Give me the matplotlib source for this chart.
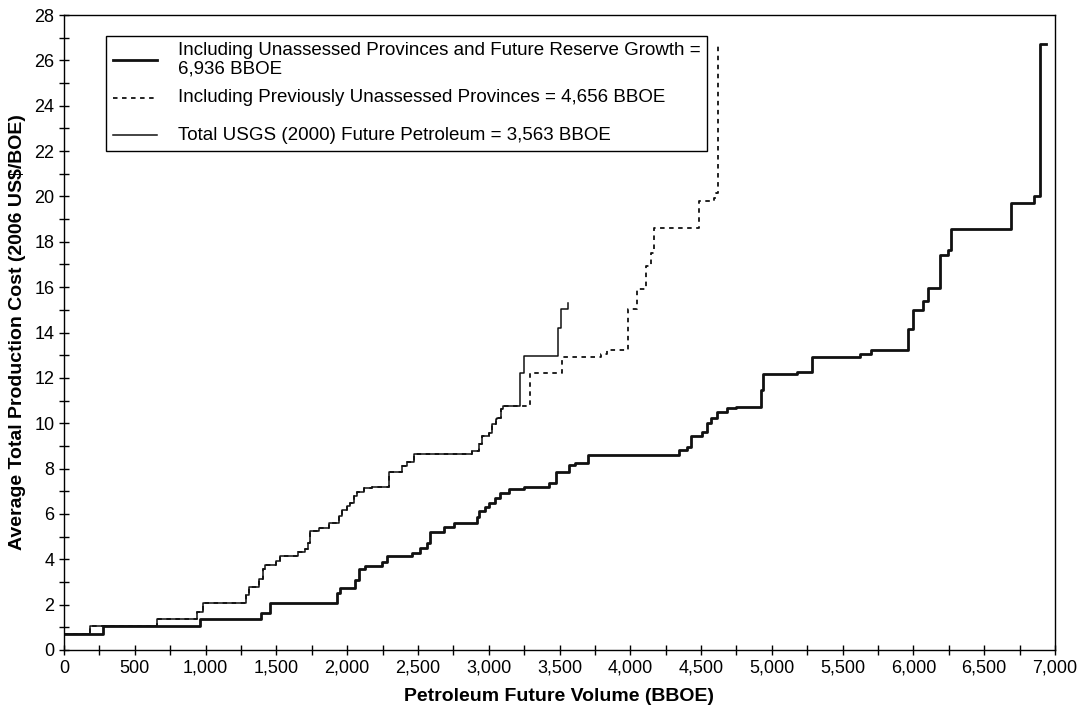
import matplotlib
matplotlib.use('Agg')
import matplotlib.pyplot as plt
from matplotlib.lines import Line2D
from matplotlib.patches import Rectangle
from matplotlib.ticker import MultipleLocator, FuncFormatter

plt.rcParams['font.family'] = ['Liberation Sans', 'DejaVu Sans']

# step breakpoints: x = volume where a cost level starts
x_growth = [0, 278, 962, 1391, 1457, 1928, 1952, 2058, 2081, 2128, 2246, 2282, 2458, 2517, 2565,
            2588, 2682, 2753, 2918, 2929, 2977, 3000, 3047, 3083, 3142, 3248, 3424, 3472, 3566, 3613,
            3700, 4343, 4403, 4426, 4509, 4544, 4568, 4615, 4686, 4744, 4921, 4935, 5181, 5287, 5623,
            5699, 5963, 5994, 6069, 6104, 6189, 6241, 6265, 6689, 6849, 6894, 6936]
y_growth = [0.70, 1.08, 1.35, 1.65, 2.06, 2.50, 2.72, 3.09, 3.56, 3.72, 3.89, 4.14, 4.26, 4.48, 4.70,
            5.22, 5.41, 5.59, 5.88, 6.14, 6.29, 6.47, 6.69, 6.94, 7.10, 7.17, 7.35, 7.86, 8.16, 8.26,
            8.60, 8.82, 8.96, 9.44, 9.63, 10.00, 10.22, 10.51, 10.66, 10.73, 11.46, 12.17, 12.24, 12.90, 13.05,
            13.23, 14.14, 14.99, 15.39, 15.98, 17.42, 17.64, 18.56, 19.69, 20.02, 26.72, 26.72]

x_usgs = [0, 184, 655, 938, 981, 1288, 1310, 1380, 1405, 1421, 1495, 1527, 1650, 1704, 1727,
          1739, 1800, 1869, 1940, 1964, 1999, 2022, 2046, 2070, 2116, 2176, 2293, 2388, 2423, 2470,
          2883, 2929, 2953, 3000, 3024, 3048, 3060, 3085, 3100, 3219, 3248, 3489, 3514, 3560, 3563]
y_usgs = [0.70, 1.08, 1.38, 1.67, 2.07, 2.42, 2.76, 3.13, 3.57, 3.76, 3.93, 4.15, 4.30, 4.45, 4.74,
          5.25, 5.40, 5.62, 5.91, 6.18, 6.33, 6.50, 6.79, 6.97, 7.13, 7.19, 7.87, 8.12, 8.29, 8.64,
          8.78, 9.07, 9.44, 9.58, 9.95, 10.17, 10.25, 10.61, 10.76, 12.23, 12.96, 14.21, 15.02, 15.28, 15.28]

# previously unassessed provinces: same as USGS up to ~3100, then its own steps
n_shared = 39
x_prev_tail = [3290, 3519, 3790, 3837, 3985, 4049, 4108, 4143, 4167, 4485, 4591, 4603, 4619, 4622]
y_prev_tail = [12.20, 12.93, 13.03, 13.22, 15.02, 15.90, 16.92, 17.51, 18.60, 19.78, 19.93, 20.15, 26.76, 26.76]
x_prev = x_usgs[:n_shared] + x_prev_tail
y_prev = y_usgs[:n_shared] + y_prev_tail

labels = ['Including Unassessed Provinces and Future Reserve Growth =\n6,936 BBOE',
          'Including Previously Unassessed Provinces = 4,656 BBOE',
          'Total USGS (2000) Future Petroleum = 3,563 BBOE']

W, H = 1090, 716
fig = plt.figure(figsize=(W/100, H/100), dpi=100)
ax = fig.add_axes([64/W, 1-650/H, 991/W, 635/H])

styles = [dict(lw=2.0, linestyle='-'),
          dict(lw=1.3, linestyle=(0, (2.5, 2.5))),
          dict(lw=1.1, linestyle='-')]

ax.step(x_growth, y_growth, where='post', color='#111111', **styles[0])
ax.step(x_prev, y_prev, where='post', color='#111111', **styles[1])
ax.step(x_usgs, y_usgs, where='post', color='#111111', **styles[2])

ax.set_xlim(0, 7000)
ax.set_ylim(0, 28)
ax.xaxis.set_major_locator(MultipleLocator(500))
ax.xaxis.set_minor_locator(MultipleLocator(250))
ax.yaxis.set_major_locator(MultipleLocator(2))
ax.yaxis.set_minor_locator(MultipleLocator(1))
ax.xaxis.set_major_formatter(FuncFormatter(lambda v, p: f'{int(v):,}'))
ax.tick_params(which='both', direction='inout', length=7, width=1, labelsize=13, top=False, right=False)
for s in ax.spines.values():
    s.set_linewidth(1.0)

ax.set_xlabel('Petroleum Future Volume (BBOE)', fontsize=14, fontweight='bold', labelpad=8)
ax.set_ylabel('Average Total Production Cost (2006 US$/BOE)', fontsize=14, fontweight='bold', labelpad=6)

# legend box laid out by hand (uneven entry spacing as in the original)
def fx(px):
    return px / W

def fy(py):
    return 1 - py / H

fig.patches.append(Rectangle((fx(106), fy(151)), fx(707) - fx(106), fy(36) - fy(151),
                             transform=fig.transFigure, fill=True, facecolor='white',
                             edgecolor='black', lw=1.0, zorder=5))
rows = [60, 98, 135]
for lab, st, row in zip(labels, styles, rows):
    fig.lines.append(Line2D([fx(113), fx(157)], [fy(row), fy(row)], transform=fig.transFigure,
                            color='#111111', zorder=6, **st))
    fig.text(fx(178), fy(row), lab, fontsize=13.5, va='center', ha='left',
             linespacing=1.1, zorder=6)

fig.savefig('out.png', dpi=100)
